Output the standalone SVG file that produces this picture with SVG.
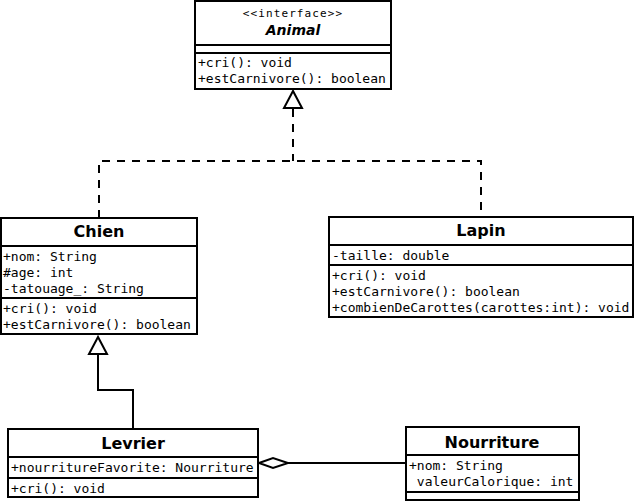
<svg xmlns="http://www.w3.org/2000/svg" width="635" height="502" viewBox="0 0 635 502">
<style>
.box{fill:#fff;stroke:#000;stroke-width:2}
.sep{stroke:#000;stroke-width:2}
.m{font-family:"DejaVu Sans Mono","Liberation Mono",monospace;font-size:13px;fill:#000}
.t{font-family:"DejaVu Sans","Liberation Sans",sans-serif;font-size:16px;font-weight:bold;fill:#000;text-anchor:middle}
.st{font-family:"DejaVu Sans Mono","Liberation Mono",monospace;font-size:11px;letter-spacing:1.1px;fill:#000;text-anchor:middle}
.ln{fill:none;stroke:#000;stroke-width:2}
.dash{stroke-dasharray:8,7}
.head{fill:#fff;stroke:#000;stroke-width:2}
</style>
<rect width="635" height="502" fill="#fff"/>
<g id="connectors">
  <path class="ln dash" d="M293,109 V161"/>
  <path class="ln dash" d="M99,218 V161 H481 V217"/>
  <polygon class="head" points="293,91 284,108 302,108"/>
  <path class="ln" d="M98,354 V390 H133 V429"/>
  <polygon class="head" points="98,337 89,354 107,354"/>
  <path class="ln" d="M288,463 H406"/>
  <polygon class="head" points="259,463 273,458 288,463 273,468"/>
</g>
<g id="Animal">
  <rect class="box" x="195" y="1" width="196" height="88"/>
  <line class="sep" x1="195" y1="45" x2="391" y2="45"/>
  <line class="sep" x1="195" y1="53" x2="391" y2="53"/>
  <text class="st" x="293" y="17">&lt;&lt;interface&gt;&gt;</text>
  <text class="t" x="293" y="35" style="font-style:italic;font-size:14px">Animal</text>
  <text class="m" x="198" y="67">+cri(): void</text>
  <text class="m" x="198" y="83">+estCarnivore(): boolean</text>
</g>
<g id="Chien">
  <rect class="box" x="1" y="218" width="196" height="116"/>
  <line class="sep" x1="1" y1="246" x2="197" y2="246"/>
  <line class="sep" x1="1" y1="298" x2="197" y2="298"/>
  <text class="t" x="99" y="237">Chien</text>
  <text class="m" x="3" y="261">+nom: String</text>
  <text class="m" x="3" y="277">#age: int</text>
  <text class="m" x="3" y="293">-tatouage_: String</text>
  <text class="m" x="3" y="313">+cri(): void</text>
  <text class="m" x="3" y="329">+estCarnivore(): boolean</text>
</g>
<g id="Lapin">
  <rect class="box" x="329" y="217" width="304" height="100"/>
  <line class="sep" x1="329" y1="245" x2="633" y2="245"/>
  <line class="sep" x1="329" y1="265" x2="633" y2="265"/>
  <text class="t" x="481" y="236">Lapin</text>
  <text class="m" x="332" y="260">-taille: double</text>
  <text class="m" x="332" y="280">+cri(): void</text>
  <text class="m" x="332" y="296">+estCarnivore(): boolean</text>
  <text class="m" x="332" y="312">+combienDeCarottes(carottes:int): void</text>
</g>
<g id="Levrier">
  <rect class="box" x="8" y="429" width="250" height="68"/>
  <line class="sep" x1="8" y1="457" x2="258" y2="457"/>
  <line class="sep" x1="8" y1="478" x2="258" y2="478"/>
  <text class="t" x="133" y="449">Levrier</text>
  <text class="m" x="11" y="472">+nourritureFavorite: Nourriture</text>
  <text class="m" x="11" y="493">+cri(): void</text>
</g>
<g id="Nourriture">
  <rect class="box" x="406" y="427" width="173" height="73"/>
  <line class="sep" x1="406" y1="455" x2="579" y2="455"/>
  <line class="sep" x1="406" y1="492" x2="579" y2="492"/>
  <text class="t" x="492" y="448">Nourriture</text>
  <text class="m" x="409" y="470">+nom: String</text>
  <text class="m" x="409" y="486" xml:space="preserve"> valeurCalorique: int</text>
</g>
</svg>
